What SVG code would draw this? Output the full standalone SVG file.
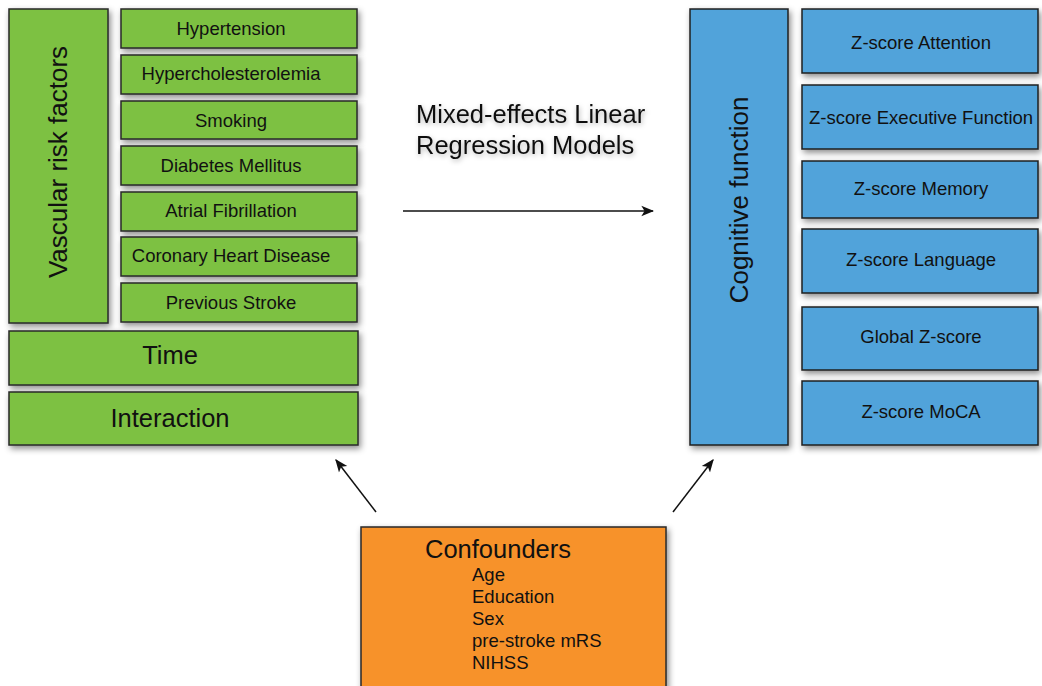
<svg xmlns="http://www.w3.org/2000/svg" width="1042" height="686" viewBox="0 0 1042 686">
  <defs>
    <filter id="shadow" x="-10%" y="-10%" width="130%" height="130%">
      <feDropShadow dx="2" dy="3" stdDeviation="3" flood-color="#000" flood-opacity="0.45"/>
    </filter>
    <filter id="tshadow" x="-10%" y="-30%" width="120%" height="160%">
      <feDropShadow dx="1" dy="2" stdDeviation="2.5" flood-color="#000" flood-opacity="0.3"/>
    </filter>
    <marker id="arrow" viewBox="0 0 10 10" refX="9" refY="5" markerWidth="13" markerHeight="13" markerUnits="userSpaceOnUse" orient="auto">
      <path d="M0,1 L10,5 L0,9 L2.5,5 Z" fill="#111"/>
    </marker>
    <style>
      text { font-family: "Liberation Sans", Arial, sans-serif; fill: #111; }
      .g { fill: #7dc143; stroke: #2a2a2a; stroke-width: 1.5; filter: url(#shadow); }
      .b { fill: #51a3da; stroke: #1f1f1f; stroke-width: 1.5; filter: url(#shadow); }
      .o { fill: #f7922a; stroke: #2a2a2a; stroke-width: 1.5; filter: url(#shadow); }
      .s { font-size: 18.5px; text-anchor: middle; }
      .m { font-size: 25.5px; text-anchor: middle; }
      .v { font-size: 26px; text-anchor: middle; }
      .c { font-size: 18.5px; }
      .conn { stroke: #111; stroke-width: 1.5; fill: none; marker-end: url(#arrow); }
    </style>
  </defs>
  <rect width="1042" height="686" fill="#fff"/>

  <!-- predictors -->
  <g id="vascular-risk-factors">
    <rect class="g" x="9" y="9" width="99" height="314"/>
    <text class="v" transform="translate(67,162) rotate(-90)">Vascular risk factors</text>
  </g>
  <g id="hypertension">
    <rect class="g" x="121" y="9" width="236" height="39"/>
    <text class="s" x="231" y="35">Hypertension</text>
  </g>
  <g id="hypercholesterolemia">
    <rect class="g" x="121" y="55" width="236" height="39"/>
    <text class="s" x="231" y="80">Hypercholesterolemia</text>
  </g>
  <g id="smoking">
    <rect class="g" x="121" y="101" width="236" height="38"/>
    <text class="s" x="231" y="127">Smoking</text>
  </g>
  <g id="diabetes">
    <rect class="g" x="121" y="146" width="236" height="39"/>
    <text class="s" x="231" y="172">Diabetes Mellitus</text>
  </g>
  <g id="atrial-fibrillation">
    <rect class="g" x="121" y="192" width="236" height="39"/>
    <text class="s" x="231" y="217">Atrial Fibrillation</text>
  </g>
  <g id="coronary-heart-disease">
    <rect class="g" x="121" y="237" width="236" height="39"/>
    <text class="s" x="231" y="262">Coronary Heart Disease</text>
  </g>
  <g id="previous-stroke">
    <rect class="g" x="121" y="283" width="236" height="39"/>
    <text class="s" x="231" y="309">Previous Stroke</text>
  </g>
  <g id="time">
    <rect class="g" x="9" y="331" width="349" height="54"/>
    <text class="m" x="170" y="364">Time</text>
  </g>
  <g id="interaction">
    <rect class="g" x="9" y="392" width="349" height="53"/>
    <text class="m" x="170" y="427">Interaction</text>
  </g>

  <!-- model label -->
  <g id="model-label" filter="url(#tshadow)">
    <text x="416" y="123" style="font-size:25.5px">Mixed-effects Linear</text>
    <text x="416" y="154" style="font-size:25.5px">Regression Models</text>
  </g>

  <!-- outcomes -->
  <g id="cognitive-function">
    <rect class="b" x="690" y="9" width="98" height="436"/>
    <text class="v" transform="translate(748,200) rotate(-90)">Cognitive function</text>
  </g>
  <g id="z-attention">
    <rect class="b" x="802" y="9" width="236" height="64"/>
    <text class="s" x="921" y="49">Z-score Attention</text>
  </g>
  <g id="z-executive">
    <rect class="b" x="802" y="85" width="236" height="64"/>
    <text class="s" x="921" y="124">Z-score Executive Function</text>
  </g>
  <g id="z-memory">
    <rect class="b" x="802" y="161" width="236" height="57"/>
    <text class="s" x="921" y="195">Z-score Memory</text>
  </g>
  <g id="z-language">
    <rect class="b" x="802" y="229" width="236" height="64"/>
    <text class="s" x="921" y="266">Z-score Language</text>
  </g>
  <g id="z-global">
    <rect class="b" x="802" y="307" width="236" height="63"/>
    <text class="s" x="921" y="343">Global Z-score</text>
  </g>
  <g id="z-moca">
    <rect class="b" x="802" y="381" width="236" height="64"/>
    <text class="s" x="921" y="418">Z-score MoCA</text>
  </g>

  <!-- confounders -->
  <g id="confounders">
    <rect class="o" x="361" y="527" width="305" height="175"/>
    <text x="425" y="558" style="font-size:25.5px">Confounders</text>
    <text class="c" x="472" y="581">Age</text>
    <text class="c" x="472" y="603">Education</text>
    <text class="c" x="472" y="625">Sex</text>
    <text class="c" x="472" y="647">pre-stroke mRS</text>
    <text class="c" x="472" y="669">NIHSS</text>
  </g>

  <!-- connectors -->
  <g id="connectors">
    <line class="conn" x1="403" y1="211" x2="653" y2="211"/>
    <line class="conn" x1="376" y1="512" x2="336" y2="460"/>
    <line class="conn" x1="673" y1="512" x2="713" y2="460"/>
  </g>
</svg>
